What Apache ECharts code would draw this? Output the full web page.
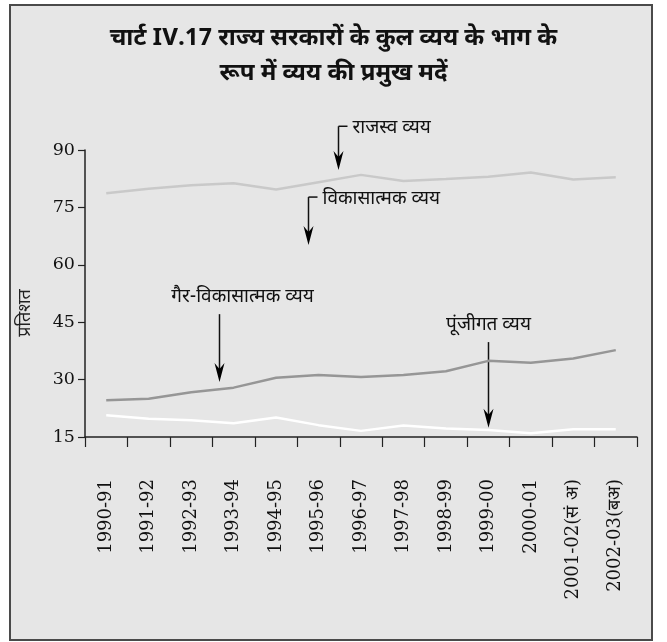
<!DOCTYPE html>
<html>
<head>
<meta charset="utf-8">
<script src="https://cdn.jsdelivr.net/npm/echarts@6/dist/echarts.min.js"></script>
<style>
  html, body { margin: 0; padding: 0; background: #ffffff; }
  #frame {
    position: absolute; left: 9px; top: 4px; width: 640px; height: 633px;
    border: 2px solid #4a4a4a; background: #e6e6e6;
  }
  #chart { position: absolute; left: 0; top: 0; width: 667px; height: 642px; }
</style>
</head>
<body>
<div id="frame"></div>
<div id="chart"></div>
<script>
// Years (sa = revised estimates, ba = budget estimates)
const categories = ['1990-91', '1991-92', '1992-93', '1993-94', '1994-95', '1995-96', '1996-97',
  '1997-98', '1998-99', '1999-00', '2000-01', '2001-02(सं अ)', '2002-03(बअ)'];

// Share in total expenditure of state governments, per cent
const revenueExp = [78.7, 79.9, 80.8, 81.3, 79.7, 81.6, 83.5, 81.9, 82.4, 83.0, 84.1, 82.3, 82.9];
const nonDevExp = [24.6, 25.0, 26.7, 27.9, 30.5, 31.2, 30.7, 31.2, 32.2, 34.9, 34.4, 35.5, 37.7];
const capitalExp = [20.7, 19.8, 19.4, 18.6, 20.1, 18.1, 16.6, 18.0, 17.2, 16.8, 16.0, 17.0, 17.0];

// Value axis range
const yMin = 15;
const yMax = 90;
const yStep = 15;

// Arrow callouts: x as (fractional) category index, arrow from / to as values
const callouts = [
  { label: 'राजस्व व्यय', x: 5.46, from: 96.2, to: 84.8, kind: 'bracket' },
  { label: 'विकासात्मक व्यय', x: 4.76, from: 77.7, to: 65.2, kind: 'bracket' },
  { label: 'गैर-विकासात्मक व्यय', x: 2.66, from: 47.1, to: 29.4, kind: 'above', dx: 23 },
  { label: 'पूंजीगत व्यय', x: 9.0, from: 39.8, to: 17.4, kind: 'above', dx: 0 }
];

const devaFont = '"Noto Sans Devanagari", "Noto Sans", "Lohit Devanagari", sans-serif';
const numFont = '"DejaVu Serif", serif';

const chart = echarts.init(document.getElementById('chart'), null, { renderer: 'canvas' });

chart.setOption({
  backgroundColor: 'transparent',
  animation: false,
  title: {
    text: 'चार्ट IV.17 राज्य सरकारों के कुल व्यय के भाग के\nरूप में व्यय की प्रमुख मदें',
    left: 'center',
    top: 18,
    textStyle: { fontFamily: devaFont, fontWeight: 'bold', fontSize: 24, lineHeight: 35, color: '#111' }
  },
  grid: { left: 85, right: 30, top: 150, bottom: 205, containLabel: false },
  xAxis: {
    type: 'category',
    data: categories,
    boundaryGap: true,
    axisLine: { lineStyle: { color: '#222', width: 1.5 } },
    axisTick: { show: true, length: 10, lineStyle: { color: '#222', width: 1.2 } },
    axisLabel: {
      rotate: 90, margin: 42, interval: 0,
      fontFamily: numFont, fontSize: 18, color: '#111'
    },
    splitLine: { show: false }
  },
  yAxis: {
    type: 'value',
    min: yMin, max: yMax, interval: yStep,
    axisLine: { show: true, lineStyle: { color: '#222', width: 1.5 } },
    axisTick: { show: true, length: 7, lineStyle: { color: '#222', width: 1.2 } },
    axisLabel: { margin: 10, fontFamily: numFont, fontSize: 17.5, color: '#111' },
    splitLine: { show: false }
  },
  series: [
    { name: 'राजस्व व्यय', type: 'line', data: revenueExp, symbol: 'none',
      lineStyle: { color: '#c9c9c9', width: 2.5 } },
    { name: 'गैर-विकासात्मक व्यय', type: 'line', data: nonDevExp, symbol: 'none',
      lineStyle: { color: '#969696', width: 2.5 } },
    { name: 'पूंजीगत व्यय', type: 'line', data: capitalExp, symbol: 'none',
      lineStyle: { color: '#ffffff', width: 2.5 } }
  ]
});

// Place callout arrows through the chart's own coordinate conversion
function toPixel(idx, val) {
  const p0 = chart.convertToPixel({ gridIndex: 0 }, [0, val]);
  const p1 = chart.convertToPixel({ gridIndex: 0 }, [1, val]);
  return [p0[0] + (p1[0] - p0[0]) * idx, p0[1]];
}

const graphics = [];
callouts.forEach(function (c) {
  const top = toPixel(c.x, c.from);
  const tip = toPixel(c.x, c.to);
  const x = Math.round(top[0]) + 0.5;
  graphics.push({
    type: 'line',
    shape: { x1: x, y1: top[1], x2: x, y2: tip[1] - 10 },
    style: { stroke: '#111', lineWidth: 1.5 }
  });
  graphics.push({
    type: 'polygon',
    shape: { points: [[x, tip[1]], [x - 5, tip[1] - 19], [x, tip[1] - 13], [x + 5, tip[1] - 19]] },
    style: { fill: '#000' }
  });
  if (c.kind === 'bracket') {
    graphics.push({
      type: 'line',
      shape: { x1: x, y1: top[1], x2: x + 9, y2: top[1] },
      style: { stroke: '#111', lineWidth: 1.5 }
    });
    graphics.push({
      type: 'text', x: x + 14, y: top[1] + 3,
      style: { text: c.label, fontFamily: devaFont, fontSize: 19, fill: '#111',
        align: 'left', verticalAlign: 'middle' }
    });
  } else {
    graphics.push({
      type: 'text', x: x + c.dx, y: top[1] - 16,
      style: { text: c.label, fontFamily: devaFont, fontSize: 19, fill: '#111',
        align: 'center', verticalAlign: 'middle' }
    });
  }
});

// Vertical value-axis title
const mid = toPixel(0, 47.4);
graphics.push({
  type: 'text', x: 27, y: mid[1], rotation: Math.PI / 2,
  style: { text: 'प्रतिशत', fontFamily: devaFont, fontSize: 18, fill: '#222',
    align: 'center', verticalAlign: 'middle' }
});

chart.setOption({ graphic: graphics });
</script>
</body>
</html>
